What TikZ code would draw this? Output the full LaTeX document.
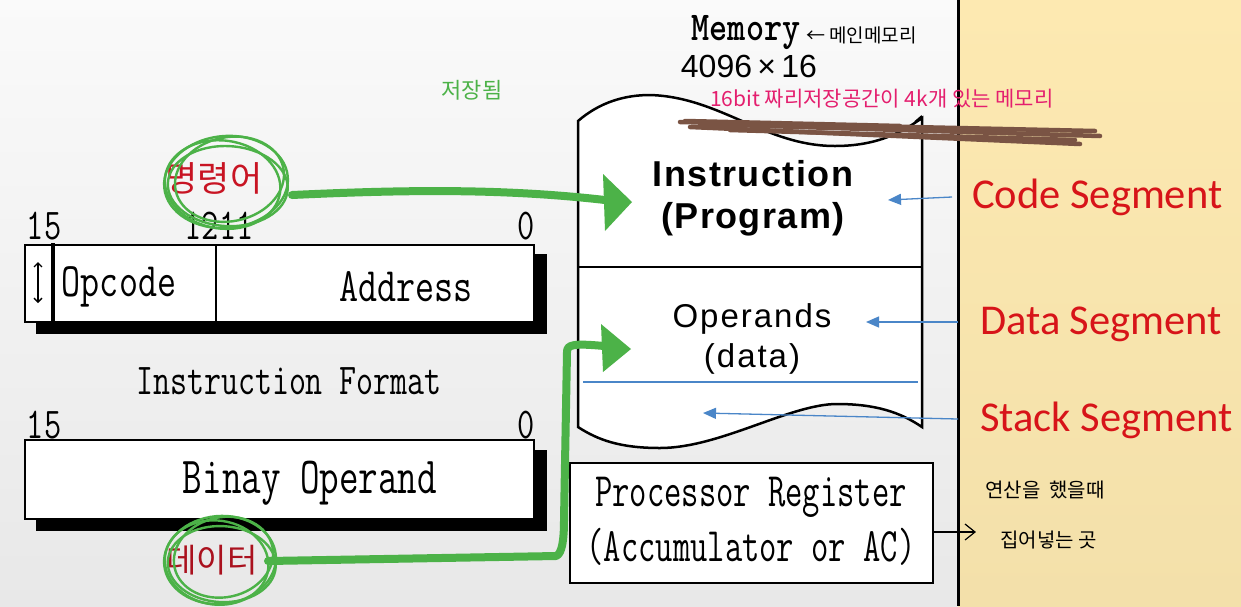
\documentclass[tikz,border=0pt]{standalone}
\usepackage{fontspec}
\setsansfont{Liberation Sans}
\newfontfamily\calib{Carlito}
\newfontfamily\kr{Noto Sans CJK KR}
\usetikzlibrary{arrows.meta}
\definecolor{grn}{RGB}{76,178,72}
\definecolor{segred}{RGB}{215,20,25}
\definecolor{korred}{RGB}{200,20,35}
\definecolor{pinkhw}{RGB}{228,30,110}
\definecolor{brownhw}{RGB}{122,84,68}
\definecolor{bluearr}{RGB}{74,134,200}
\definecolor{yel}{RGB}{253,233,177}
\newcommand\tw[3]{\scalebox{#2}[1]{\fontsize{#1}{#1}\selectfont\ttfamily #3}}
\tikzset{
  box/.style={draw=black,line width=2.5pt,fill=white},
  twtext/.style={inner sep=0pt,anchor=center},
  seg/.style={inner sep=0pt,text=segred,font=\calib\fontsize{42.5}{42.5}\selectfont},
  hw/.style={inner sep=0pt,font=\kr\fontsize{19}{19}\selectfont},
  bluea/.style={draw=bluearr,line width=1.3pt,-{Triangle[length=13pt,width=11pt]}},
  greena/.style={draw=grn,line width=8pt,line cap=round,line join=round},
  greenc/.style={draw=grn,line width=2.4pt},
}
\begin{document}
\begin{tikzpicture}[x=1pt,y=-1pt]
\useasboundingbox (0,0) rectangle (1241,606);
% backgrounds
\shade[top color={rgb,255:red,250;green,250;blue,250},bottom color={rgb,255:red,232;green,232;blue,232}] (0,0) rectangle (958,606);
\shade[top color=yel,bottom color={rgb,255:red,243;green,224;blue,170}] (958,0) rectangle (1241,606);
\draw[line width=3pt] (958,0) -- (958,606);

% ---------- memory ----------
\node[twtext] (memlbl) at (746,33) {\tw{41}{0.84}{\bfseries Memory}};
\node[hw,anchor=west] (mainmem) at (806,35) {← 메인메모리};
\node[inner sep=0pt] (size) at (749,66) {\fontsize{32}{32}\selectfont\sffamily 4096\,×\,16};
\draw[line width=2.5pt,fill=white]
  (578,121) .. controls (600,102) and (625,95) .. (650,95)
  .. controls (720,97) and (765,146) .. (835,146)
  .. controls (880,146) and (905,130) .. (922,118)
  -- (922,427)
  .. controls (900,412) and (875,404) .. (837,404)
  .. controls (790,404) and (720,448) .. (660,448)
  .. controls (620,448) and (598,440) .. (578,427) -- cycle;
\draw[line width=2pt] (915,122) -- (922,116);
\draw[line width=2.5pt] (578,267) -- (922,267);
\draw[draw=bluearr,line width=1.2pt] (583,382) -- (918,382);
\node[inner sep=0pt,align=center,font=\sffamily\bfseries\fontsize{36}{42}\selectfont\addfontfeature{LetterSpace=4}] (inst) at (753,198) {Instruction\\(Program)};
\node[inner sep=0pt,align=center,font=\sffamily\fontsize{33}{40}\selectfont\addfontfeature{LetterSpace=6}] (oper) at (752,339) {Operands\\(data)};
\coordinate (stackpt) at (703,413);

% handwritten notes on memory
\node[hw,text=pinkhw,anchor=west,font=\kr\fontsize{21}{21}\selectfont] (note16) at (710,99) {16bit 짜리저장공간이 4k개 있는 메모리};
\foreach \a/\b/\c/\d in {680/122/1095/131, 690/127/1080/144, 700/124/1100/136, 685/121/900/126, 730/130/1075/140}
  \draw[brownhw,line width=4.5pt,line cap=round] (\a,\b) -- (\c,\d);
\node[hw,text=grn,font=\kr\fontsize{22}{22}\selectfont] (saved) at (472,90) {저장됨};

% ---------- processor register ----------
\node[draw=black,line width=2.5pt,minimum width=363pt,minimum height=120pt,inner sep=0pt,fill=white] (preg) at (751.5,523) {};
\node[twtext] (pr1) at (751,497) {\tw{48}{0.7}{Processor Register}};
\node[twtext] (pr2) at (751,547) {\tw{48}{0.7}{(Accumulator or AC)}};
\coordinate (hwarrow) at (975,532);
\draw[line width=1.2pt] (preg.east |- 0,532) -- (hwarrow);
\draw[line width=1.2pt] (965,524) -- (975,532) -- (965,540);
\node[hw,anchor=west,font=\kr\fontsize{20}{20}\selectfont] (calc) at (985,490) {연산을 \ 했을때};
\node[hw,anchor=west,font=\kr\fontsize{20}{20}\selectfont] (put) at (1000,540) {집어넣는 곳};

% ---------- segment labels ----------
\node[seg,anchor=west] (codeseg) at (972,197) {Code Segment};
\node[seg,anchor=west] (dataseg) at (980,324) {Data Segment};
\node[seg,anchor=west] (stackseg) at (980,420) {Stack Segment};
\draw[bluea] (952,197) -- (888,200);
\draw[bluea] (958,322) -- (866,322);
\draw[bluea] (958,419) -- (stackpt);

% ---------- instruction format ----------
\fill (36,254) rectangle (547,334);
\draw[box] (25,245) rectangle (534,322);
\draw[line width=2.5pt] (216,245) -- (216,322);
\draw[line width=3.5pt] (53,243) -- (53,334);
\draw[line width=1.3pt,{Straight Barb[length=4pt]}-{Straight Barb[length=4pt]}] (38,262) -- (38,303);
\node[twtext] (b15a) at (44,226) {\tw{44}{0.76}{15}};
\node[twtext] (b1211) at (219,226) {\tw{44}{0.76}{1211}};
\node[twtext] (b0a) at (526,226) {\tw{44}{0.76}{0}};
\node[twtext] (opcode) at (119,287) {\tw{48}{0.77}{Opcode}};
\node[twtext] (addr) at (406,287) {\tw{48}{0.77}{Address}};
\node[twtext] (ifmt) at (289,381) {\tw{44}{0.75}{Instruction Format}};

% ---------- binary operand ----------
\fill (36,450) rectangle (547,531);
\draw[box] (25,440) rectangle (534,519);
\node[twtext] (b15b) at (44,425) {\tw{44}{0.76}{15}};
\node[twtext] (b0b) at (526,425) {\tw{44}{0.76}{0}};
\node[twtext] (binop) at (310,483) {\tw{52}{0.73}{Binay Operand}};

% ---------- korean labels with circles ----------
\node[inner sep=0pt,text=korred,font=\kr\fontsize{35}{35}\selectfont] (cmd) at (214,178) {명령어};
\node[inner sep=0pt,text=korred!85!black,font=\kr\fontsize{33}{33}\selectfont] (dat) at (212,560) {데이터};
\foreach \r/\s/\dx/\dy/\rot in {62/46/0/0/5, 58/44/-3/3/-8, 55/42/4/-2/12, 60/40/2/4/-3}
  \draw[greenc,rotate around={\rot:(226,182)}] ([shift={(\dx,\dy)}]226,182) ellipse ({\r pt} and {\s pt});
\foreach \r/\s/\dx/\dy/\rot in {56/44/0/0/5, 52/42/-3/3/-8, 50/40/4/-2/12, 54/38/2/4/-3}
  \draw[greenc,rotate around={\rot:(220,560)}] ([shift={(\dx,\dy)}]220,560) ellipse ({\r pt} and {\s pt});

% ---------- green arrows ----------
\coordinate (g1s) at (292,195);
\coordinate (g2s) at (268,561);
\draw[greena] (g1s) .. controls (400,190) and (500,188) .. (605,200);
\fill[grn] (603,174) -- (632,202) -- (605,231) -- cycle;
\draw[greena] (g2s) -- (556,556) .. controls (562,554) and (564,540) .. (564,520)
  -- (567,352) .. controls (567,345) and (572,343) .. (604,346);
\fill[grn] (601,324) -- (631,349) -- (603,372) -- cycle;
\end{tikzpicture}
\end{document}
